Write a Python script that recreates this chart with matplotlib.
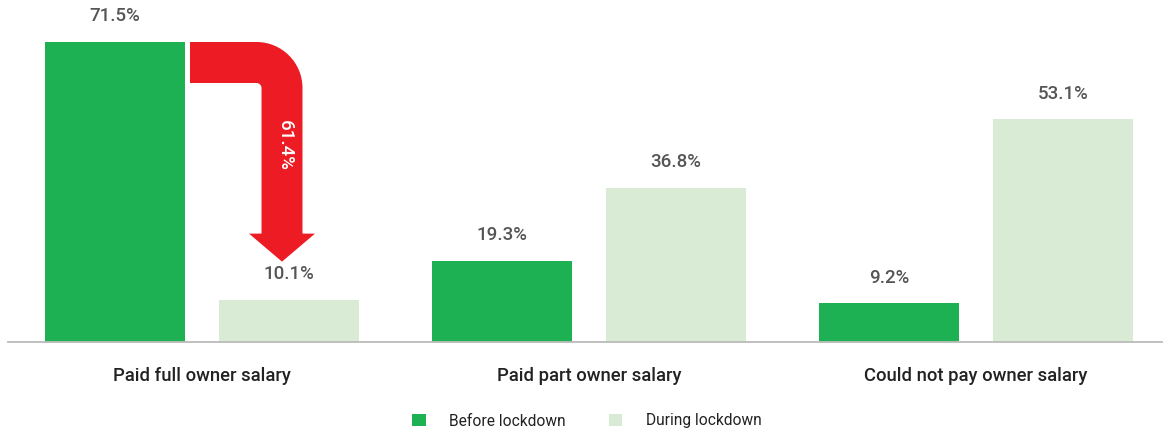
import matplotlib
matplotlib.use("Agg")
import matplotlib.pyplot as plt
from matplotlib.patches import Patch, PathPatch
from matplotlib.path import Path
from matplotlib.transforms import IdentityTransform
from matplotlib import font_manager

categories = ["Paid full owner salary", "Paid part owner salary", "Could not pay owner salary"]
series_names = ["Before lockdown", "During lockdown"]
before = [71.5, 19.3, 9.2]
during = [10.1, 36.8, 53.1]
drop_label = "61.4%"

GREEN = "#1DB154"
LIGHT = "#D9EBD5"
RED = "#ED1C24"

avail = {f.name for f in font_manager.fontManager.ttflist}
fam = [f for f in ["Liberation Sans Narrow", "Roboto", "DejaVu Sans"] if f in avail]
plt.rcParams["font.family"] = fam

W, H = 1163, 432
fig = plt.figure(figsize=(W / 100, H / 100), dpi=100)
# axes: x pixels 8..1163, y baseline at 342 px from top, ylim 0..80
ppu = 300 / 71.5
top_px = 342 - 80 * ppu
ax = fig.add_axes([8 / W, (H - 342) / H, (W - 8) / W, (342 - top_px) / H])
xl0 = (8 - 202) / 387
xl1 = (1163 - 202) / 387
ax.set_xlim(xl0, xl1)
ax.set_ylim(0, 80)

bw = 140 / 387
off = 87 / 387
xs = list(range(len(categories)))
b1 = ax.bar([x - off for x in xs], before, width=bw, color=GREEN, zorder=2)
b2 = ax.bar([x + off for x in xs], during, width=bw, color=LIGHT, zorder=2)

for s in ["top", "right", "left"]:
    ax.spines[s].set_visible(False)
ax.spines["bottom"].set_color("#BBBBBB")
ax.spines["bottom"].set_linewidth(1.3)
ax.set_yticks([])
ax.set_xticks(xs)
ax.set_xticklabels(categories, fontsize=13.3, color="#222222", fontweight="medium")
ax.tick_params(axis="x", length=0, pad=18)

for bars in (b1, b2):
    for r in bars:
        v = r.get_height()
        ax.annotate(f"{v:.1f}%", (r.get_x() + r.get_width() / 2, v),
                    xytext=(0, 12), textcoords="offset points",
                    ha="center", va="bottom", fontsize=13.5, color="#555555",
                    fontweight="medium")

# Curved drop arrow from the first "before" bar to the first "during" bar
fig.canvas.draw()
r0 = b1[0]
r1 = b2[0]
pA = ax.transData.transform((r0.get_x() + r0.get_width(), r0.get_height()))
pB = ax.transData.transform((r1.get_x() + r1.get_width() / 2, r1.get_height()))
x0 = pA[0] + 5
T = pA[1]
cx = pB[0] - 7
tipy = pB[1] + 38
th = 41
hw = 33
R = 46
r = 5
k = 0.5523
xl = cx - th / 2
xr = cx + th / 2
yh = tipy + 28
verts = [
    (x0, T),
    (xr - R, T),
    (xr - R + k * R, T), (xr, T - R + k * R), (xr, T - R),
    (xr, yh),
    (cx + hw, yh),
    (cx, tipy),
    (cx - hw, yh),
    (xl, yh),
    (xl, T - th - r),
    (xl, T - th - r + k * r), (xl - r + k * r, T - th), (xl - r, T - th),
    (x0, T - th),
    (x0, T),
]
codes = [Path.MOVETO, Path.LINETO,
         Path.CURVE4, Path.CURVE4, Path.CURVE4,
         Path.LINETO, Path.LINETO, Path.LINETO, Path.LINETO, Path.LINETO,
         Path.LINETO,
         Path.CURVE4, Path.CURVE4, Path.CURVE4,
         Path.LINETO, Path.CLOSEPOLY]
patch = PathPatch(Path(verts, codes), facecolor=RED, edgecolor="none",
                  transform=IdentityTransform(), zorder=5)
fig.add_artist(patch)
fig.text((cx + 3) / W, (H - 145) / H, drop_label, rotation=-90, color="white",
         fontsize=13.5, ha="center", va="center", zorder=6, fontweight="medium")

handles = [Patch(facecolor=GREEN, edgecolor="none"), Patch(facecolor=LIGHT, edgecolor="none")]
fig.legend(handles, series_names, loc="center", bbox_to_anchor=(587 / W, (H - 421) / H),
           ncol=2, frameon=False, fontsize=11.2, handlelength=0.85, handleheight=0.85,
           handletextpad=1.5, columnspacing=2.8, labelcolor="#222222")

fig.savefig("out.png", dpi=100)
